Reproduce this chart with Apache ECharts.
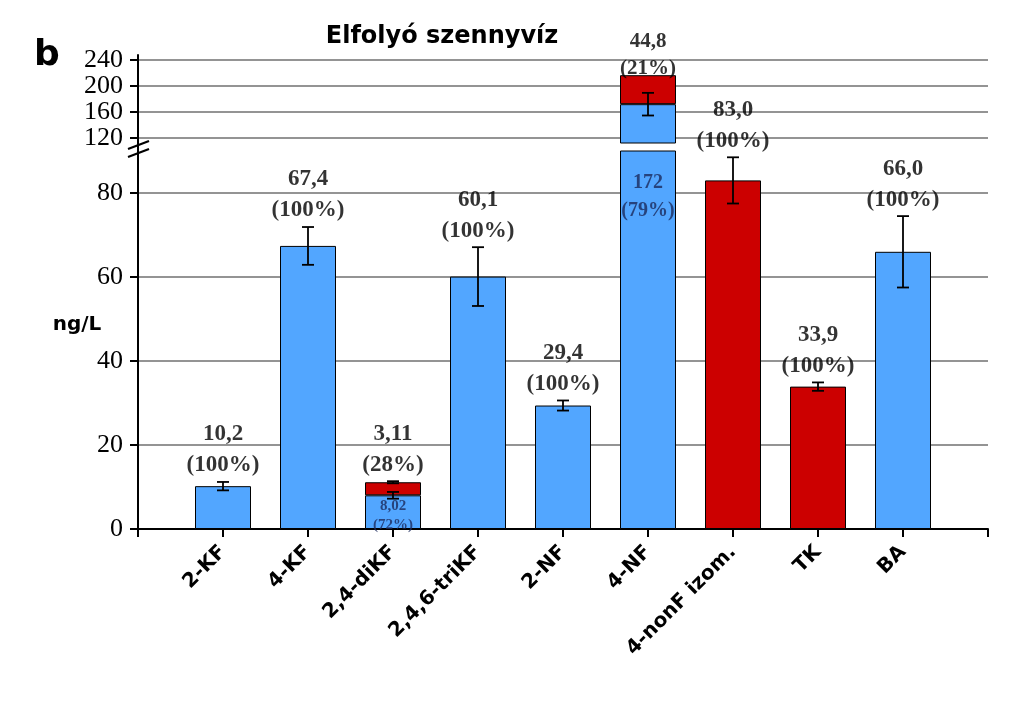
<!DOCTYPE html>
<html>
<head>
<meta charset="utf-8">
<script src="https://cdn.jsdelivr.net/npm/echarts@6/dist/echarts.min.js"></script>
<style>html,body{margin:0;padding:0;background:#fff}#c{width:1024px;height:714px}</style>
</head>
<body>
<div id="c"></div>
<script>
// ---- data ----
const categories = ['2-KF','4-KF','2,4-diKF','2,4,6-triKF','2-NF','4-NF','4-nonF izom.','TK','BA'];
const blueValues = [10.2, 67.4, 8.02, 60.1, 29.4, 172, null, null, 66.0];
const redValues  = [null, null, 3.11, null, null, 44.8, 83.0, 33.9, null];
const blueErr    = [1.0, 4.5, 0.8, 7.0, 1.2, 17.5, null, null, 8.5];
const redErr     = [null, null, 0.25, null, null, null, 5.5, 1.0, null];
const lowerTicks = [0, 20, 40, 60, 80];
const upperTicks = [120, 160, 200, 240];
const LOWER_MAX = 90;
const UPPER_MIN = 112, UPPER_MAX = 248;

// ---- helpers ----
const BLUE = '#52A6FF', RED = '#CC0000', NAVY = '#1C2A5C';
const fmt = v => v.toPrecision(3).replace('.', ',');
const axisCats = [''].concat(categories, ['']);
const pad = arr => [null].concat(arr, [null]);
const total = categories.map((c, i) => (blueValues[i] || 0) + (redValues[i] || 0));
const broken = total.map(t => t > LOWER_MAX);

const lowerBlue = pad(blueValues);
const lowerRed = pad(redValues);
const upperBlue = pad(blueValues.map((v, i) => broken[i] ? v : null));
const upperRed = pad(redValues.map((v, i) => broken[i] ? v : null));

// error bars: [x, center, err]
const lowerErr = [], upperErr = [];
categories.forEach((c, i) => {
  const b = blueValues[i] || 0;
  if (blueErr[i] != null) {
    (b > LOWER_MAX ? upperErr : lowerErr).push([i + 1, b, blueErr[i]]);
  }
  if (redErr[i] != null) {
    const t = total[i];
    (t > LOWER_MAX ? upperErr : lowerErr).push([i + 1, t, redErr[i]]);
  }
});

// top labels
const topLabelText = categories.map((c, i) => {
  const top = redValues[i] != null ? redValues[i] : blueValues[i];
  const pct = Math.round(top / total[i] * 100);
  return fmt(top) + '\n(' + pct + '%)';
});
const lowerTopLabels = [], upperTopLabels = [];
categories.forEach((c, i) => {
  const e = redValues[i] != null ? (redErr[i] || 0) : (blueErr[i] || 0);
  if (broken[i]) {
    upperTopLabels.push({value: [i + 1, total[i]], text: topLabelText[i]});
  } else {
    lowerTopLabels.push({value: [i + 1, total[i] + e], text: topLabelText[i]});
  }
});
// inner labels (blue part of stacked bars)
const innerLabels = [];
categories.forEach((c, i) => {
  if (blueValues[i] != null && redValues[i] != null) {
    const pct = Math.round(blueValues[i] / total[i] * 100);
    innerLabels.push({value: [i + 1, Math.min(blueValues[i], LOWER_MAX)],
      text: fmt(blueValues[i]) + '\n(' + pct + '%)', big: blueValues[i] > LOWER_MAX});
  }
});

function errRender(params, api) {
  const x = api.value(0), c = api.value(1), e = api.value(2);
  const p1 = api.coord([x, c + e]), p2 = api.coord([x, c - e]);
  const w = 6;
  const st = {stroke: '#000', lineWidth: 1.8};
  return {type: 'group', children: [
    {type: 'line', shape: {x1: p1[0], y1: p1[1], x2: p2[0], y2: p2[1]}, style: st},
    {type: 'line', shape: {x1: p1[0] - w, y1: p1[1], x2: p1[0] + w, y2: p1[1]}, style: st},
    {type: 'line', shape: {x1: p2[0] - w, y1: p2[1], x2: p2[0] + w, y2: p2[1]}, style: st}
  ]};
}

const serifBold = {fontFamily: 'Liberation Serif', fontWeight: 'bold', color: '#000'};
const gridLine = {show: true, lineStyle: {color: '#707070', width: 1.5}};

const option = {
  animation: false,
  backgroundColor: '#fff',
  title: [
    {text: 'Elfolyó szennyvíz', left: 437, top: 20, textAlign: 'center',
     textStyle: {fontFamily: 'DejaVu Sans', fontWeight: 'bold', fontSize: 24, color: '#000'}},
    {text: 'b', left: 29, top: 33,
     textStyle: {fontFamily: 'DejaVu Sans', fontWeight: 'bold', fontSize: 36, color: '#000'}},
    {text: 'ng/L', left: 72, top: 310, textAlign: 'center',
     textStyle: {fontFamily: 'DejaVu Sans', fontWeight: 'bold', fontSize: 20, color: '#000'}}
  ],
  grid: [
    {left: 138, right: 36, top: 55, height: 88},
    {left: 138, right: 36, top: 151, height: 378}
  ],
  xAxis: [
    {gridIndex: 0, type: 'category', data: axisCats, boundaryGap: false, show: false},
    {gridIndex: 1, type: 'category', data: axisCats, boundaryGap: false,
     axisLine: {lineStyle: {color: '#000', width: 2}},
     axisTick: {show: true, length: 8, lineStyle: {color: '#000', width: 2}, interval: 0},
     axisLabel: {interval: 0, rotate: 45, margin: 20, fontFamily: 'DejaVu Sans', fontWeight: 'bold', fontSize: 20, color: '#000'}}
  ],
  yAxis: [
    {gridIndex: 0, type: 'value', min: UPPER_MIN, max: UPPER_MAX,
     axisLine: {show: true, lineStyle: {color: '#000', width: 2}},
     axisTick: {show: true, length: 8, lineStyle: {color: '#000', width: 2}, customValues: upperTicks},
     axisLabel: {customValues: upperTicks, fontFamily: 'Liberation Serif', fontSize: 26, color: '#000', margin: 15},
     splitLine: gridLine},
    {gridIndex: 1, type: 'value', min: 0, max: LOWER_MAX,
     axisLine: {show: true, lineStyle: {color: '#000', width: 2}},
     axisTick: {show: true, length: 8, lineStyle: {color: '#000', width: 2}, customValues: lowerTicks},
     axisLabel: {customValues: lowerTicks, fontFamily: 'Liberation Serif', fontSize: 26, color: '#000', margin: 15},
     splitLine: gridLine}
  ],
  series: [
    {type: 'bar', xAxisIndex: 1, yAxisIndex: 1, stack: 'lo', data: lowerBlue, barWidth: 56,
     itemStyle: {color: BLUE, borderColor: '#000', borderWidth: 1}},
    {type: 'bar', xAxisIndex: 1, yAxisIndex: 1, stack: 'lo', data: lowerRed, barWidth: 56,
     itemStyle: {color: RED, borderColor: '#000', borderWidth: 1}},
    {type: 'bar', xAxisIndex: 0, yAxisIndex: 0, stack: 'up', data: upperBlue, barWidth: 56,
     itemStyle: {color: BLUE, borderColor: '#000', borderWidth: 1}},
    {type: 'bar', xAxisIndex: 0, yAxisIndex: 0, stack: 'up', data: upperRed, barWidth: 56,
     itemStyle: {color: RED, borderColor: '#000', borderWidth: 1}},
    {type: 'custom', xAxisIndex: 1, yAxisIndex: 1, data: lowerErr, renderItem: errRender, z: 5},
    {type: 'custom', xAxisIndex: 0, yAxisIndex: 0, data: upperErr, renderItem: errRender, z: 5},
    {type: 'scatter', xAxisIndex: 1, yAxisIndex: 1, symbolSize: 0, z: 6,
     data: lowerTopLabels.map(d => ({value: d.value, label: {formatter: d.text}})),
     label: Object.assign({show: true, position: 'top', distance: 1, fontSize: 23, lineHeight: 31}, serifBold)},
    {type: 'scatter', xAxisIndex: 0, yAxisIndex: 0, symbolSize: 0, z: 6,
     data: upperTopLabels.map(d => ({value: d.value, label: {formatter: d.text}})),
     label: Object.assign({show: true, position: 'top', distance: -7, fontSize: 21, lineHeight: 27}, serifBold)},
    {type: 'scatter', xAxisIndex: 1, yAxisIndex: 1, symbolSize: 0, z: 6,
     data: innerLabels.map(d => ({value: d.value, label: d.big
       ? {formatter: d.text, fontSize: 20, lineHeight: 28, distance: 18}
       : {formatter: d.text, fontSize: 15, lineHeight: 19, distance: 1}})),
     label: Object.assign({}, serifBold, {show: true, position: 'bottom', color: NAVY})}
  ],
  graphic: [
    {type: 'line', shape: {x1: 138, y1: 142, x2: 138, y2: 152}, style: {stroke: '#000', lineWidth: 2}, z: 10},
    {type: 'line', shape: {x1: 128, y1: 149, x2: 149, y2: 141}, style: {stroke: '#000', lineWidth: 2}, z: 10},
    {type: 'line', shape: {x1: 128, y1: 157, x2: 149, y2: 149}, style: {stroke: '#000', lineWidth: 2}, z: 10}
  ]
};

const chart = echarts.init(document.getElementById('c'), null, {renderer: 'canvas'});
chart.setOption(option);
</script>
</body>
</html>
